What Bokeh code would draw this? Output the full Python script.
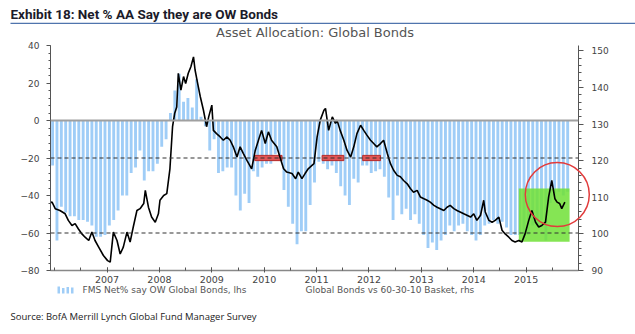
from bokeh.plotting import figure
from bokeh.models import (Range1d, LinearAxis, SingleIntervalTicker, FixedTicker,
                          CustomJSTickFormatter, Span)
from bokeh.core.properties import value
from bokeh.embed import file_html
from bokeh.resources import INLINE

# ---- data ----
bar_start = 2006.46          # first monthly survey reading (fractional year)
bar_values = [
    -24, -64, -46, -49, -51, -51, -53, -53, -54, -56,
    -62, -62, -61, -56, -53, -48, -40, -40, -28, -25,
    -16, -32, -27, -27, -23, -14, -10, 4, 16, 25,
    10, 12, 7, 22, 2, -3, -16, -10, -28, -27,
    -25, -25, -40, -48, -39, -44, -27, -30, -25, -23,
    -23, -18, -21, -37, -46, -55, -66, -59, -59, -45,
    -33, -22, -23, -26, -24, -28, -35, -40, -45, -31,
    -33, -24, -24, -28, -27, -26, -30, -41, -53, -40,
    -50, -47, -53, -50, -55, -61, -68, -65, -69, -64,
    -61, -56, -59, -56, -55, -59, -61, -64, -61, -56,
    -55, -53, -55, -54, -57, -61, -61, -61, -63, -61,
    -56, -56, -53, -64, -44, -40, -38, -40, -38,
]
bar_x = [bar_start + i / 12 for i in range(len(bar_values))]

line_t = [
    2006.38, 2006.45, 2006.51, 2006.60, 2006.70, 2006.76, 2006.83, 2006.89, 2006.95, 2007.02,
    2007.08, 2007.15, 2007.21, 2007.27, 2007.34, 2007.43, 2007.51, 2007.56, 2007.62, 2007.69,
    2007.75, 2007.81, 2007.88, 2007.94, 2008.00, 2008.07, 2008.13, 2008.20, 2008.23, 2008.29,
    2008.35, 2008.42, 2008.48, 2008.51, 2008.58, 2008.64, 2008.70, 2008.75, 2008.79, 2008.83,
    2008.86, 2008.91, 2008.96, 2009.00, 2009.05, 2009.10, 2009.15, 2009.18, 2009.23, 2009.28,
    2009.34, 2009.40, 2009.44, 2009.50, 2009.53, 2009.59, 2009.66, 2009.72, 2009.79, 2009.85,
    2009.91, 2009.98, 2010.04, 2010.10, 2010.17, 2010.26, 2010.33, 2010.39, 2010.45, 2010.52,
    2010.58, 2010.64, 2010.74, 2010.80, 2010.87, 2010.93, 2011.03, 2011.10, 2011.15, 2011.22,
    2011.28, 2011.34, 2011.38, 2011.45, 2011.51, 2011.57, 2011.64, 2011.67, 2011.73, 2011.80,
    2011.86, 2011.89, 2011.95, 2012.02, 2012.08, 2012.15, 2012.21, 2012.27, 2012.34, 2012.40,
    2012.46, 2012.53, 2012.59, 2012.65, 2012.72, 2012.78, 2012.85, 2012.91, 2012.97, 2013.04,
    2013.10, 2013.16, 2013.23, 2013.29, 2013.35, 2013.42, 2013.48, 2013.55, 2013.61, 2013.67,
    2013.74, 2013.80, 2013.86, 2013.93, 2013.99, 2014.05, 2014.12, 2014.18, 2014.24, 2014.31,
    2014.37, 2014.44, 2014.50, 2014.56, 2014.63, 2014.69, 2014.72, 2014.79, 2014.85, 2014.91,
    2014.98, 2015.04, 2015.10, 2015.17, 2015.23, 2015.29, 2015.36, 2015.42, 2015.48, 2015.55,
    2015.61, 2015.68, 2015.74, 2015.80, 2015.87, 2015.93, 2015.99, 2016.05, 2016.09, 2016.14,
    2016.18, 2016.24,
]
line_v = [
    108.3, 108.7, 106.9, 106.4, 105.5, 103.7, 102.3, 102.8, 101.4, 100.0,
    99.1, 98.2, 100.5, 98.2, 96.4, 94.1, 92.7, 92.3, 100.5, 98.2,
    94.5, 96.4, 100.5, 97.8, 101.9, 106.4, 106.9, 108.3, 111.9, 107.3,
    104.6, 103.2, 105.5, 109.2, 110.5, 111.0, 117.8, 129.3, 132.9, 134.7,
    143.9, 139.3, 143.0, 141.1, 143.9, 145.7, 148.4, 144.8, 141.1, 137.5,
    133.8, 129.3, 132.0, 135.2, 128.3, 127.4, 126.5, 125.6, 126.5, 125.6,
    123.8, 121.0, 123.8, 122.0, 120.1, 117.8, 122.9, 125.6, 128.3, 124.7,
    127.9, 125.6, 123.8, 121.0, 117.8, 116.9, 116.5, 115.1, 116.9, 115.1,
    116.5, 117.8, 118.3, 119.2, 126.5, 131.1, 133.8, 134.3, 128.3, 132.0,
    130.2, 131.1, 128.3, 125.6, 122.9, 121.0, 123.8, 127.4, 129.7, 128.3,
    127.0, 125.6, 124.7, 123.8, 124.7, 125.6, 122.0, 119.2, 117.4, 116.0,
    115.6, 114.6, 113.7, 112.4, 111.4, 111.9, 110.1, 109.6, 109.2, 108.7,
    107.8, 107.3, 106.9, 106.4, 107.3, 107.8, 106.9, 106.4, 106.0, 105.5,
    105.1, 104.6, 105.5, 103.7, 105.1, 109.2, 106.0, 103.7, 103.2, 103.7,
    104.6, 101.0, 100.0, 99.1, 98.2, 97.8, 98.2, 97.8, 100.0, 103.7,
    106.4, 103.2, 101.9, 102.3, 103.2, 110.1, 114.6, 109.6, 108.7, 108.3,
    106.9, 108.7,
]

year_labels_at = [2007.5, 2008.5, 2009.5, 2010.5, 2011.5, 2012.5, 2013.5, 2014.5, 2015.5]
half_year_ticks = [2006.5 + 0.5 * k for k in range(21)]

# highlight annotations (left-axis units / years)
red_left = [2010.32, 2011.605, 2012.38]
red_right = [2010.84, 2012.02, 2012.72]
green_box = dict(left=2015.36, right=2016.33, bottom=-64.7, top=-36.2)
circle_center = (2016.095, -39.5)

TITLE = "Exhibit 18: Net % AA Say they are OW Bonds"
SUBTITLE = "Asset Allocation: Global Bonds"
SOURCE = "Source: BofA Merrill Lynch Global Fund Manager Survey"
LEG1 = "FMS Net% say OW Global Bonds, lhs"
LEG2 = "Global Bonds vs 60-30-10 Basket, rhs"

BAR_COLOR = "#9fcdf7"

# ---- figure ----
p = figure(width=635, height=334, output_backend="svg", toolbar_location=None,
           x_range=Range1d(2006.42, 2016.5), y_range=Range1d(-80, 40),
           min_border_left=50, min_border_right=57, min_border_top=45, min_border_bottom=64,
           background_fill_color="white", border_fill_color="white")
p.outline_line_color = None
p.grid.visible = False

AX = "#555555"
LBL = "#444444"

yl = p.yaxis[0]
yl.ticker = SingleIntervalTicker(interval=20, num_minor_ticks=5)
yl.axis_line_color = AX
yl.major_tick_line_color = AX
yl.minor_tick_line_color = AX
yl.major_tick_in = 0
yl.major_tick_out = 4
yl.minor_tick_in = 0
yl.minor_tick_out = 2
yl.major_label_standoff = 7
yl.major_label_text_font = "DejaVu Sans"
yl.major_label_text_font_size = "9px"
yl.major_label_text_color = LBL

p.extra_y_ranges = {"r": Range1d(90, 151.5)}
yr = LinearAxis(y_range_name="r", ticker=SingleIntervalTicker(interval=10, num_minor_ticks=5))
yr.axis_line_color = AX
yr.major_tick_line_color = AX
yr.minor_tick_line_color = AX
yr.major_tick_in = 0
yr.major_tick_out = 5
yr.minor_tick_in = 0
yr.minor_tick_out = 3
yr.major_label_standoff = 8
yr.major_label_text_font = "DejaVu Sans"
yr.major_label_text_font_size = "9px"
yr.major_label_text_color = LBL
p.add_layout(yr, "right")

xa = p.xaxis[0]
xa.ticker = FixedTicker(ticks=year_labels_at, minor_ticks=half_year_ticks)
xa.formatter = CustomJSTickFormatter(code="return Math.floor(tick).toString();")
xa.axis_line_color = "#888888"
xa.axis_line_width = 1.5
xa.major_tick_line_color = AX
xa.minor_tick_line_color = AX
xa.major_tick_in = 3
xa.major_tick_out = 2
xa.minor_tick_in = 3
xa.minor_tick_out = 0
xa.major_label_standoff = 3
xa.major_label_text_font = "DejaVu Sans"
xa.major_label_text_font_size = "9.5px"
xa.major_label_text_color = LBL

# bars
bars = p.vbar(x=bar_x, top=0, bottom=bar_values, width=0.055,
              fill_color=BAR_COLOR, line_color=None)

# green highlight box
p.quad(left=[green_box["left"]], right=[green_box["right"]],
       bottom=[green_box["bottom"]], top=[green_box["top"]],
       fill_color="#70e036", fill_alpha=0.85, line_color=None)

# reference lines
p.add_layout(Span(location=0, dimension="width", line_color="#a0a0a0", line_width=2))

# red markers on the -20 line
p.quad(left=red_left, right=red_right, bottom=-21.4, top=-18.6,
       fill_color="#e05555", line_color="#b52a2a", line_width=1)

p.add_layout(Span(location=-20, dimension="width", line_color="#333333",
                  line_width=1.2, line_dash="4 3"))
p.add_layout(Span(location=-60, dimension="width", line_color="#333333",
                  line_width=1.2, line_dash="4 3"))

# bonds vs basket line
line = p.line(line_t, line_v, y_range_name="r", line_color="black", line_width=1.6)

# red circle
p.scatter(x=[circle_center[0]], y=[circle_center[1]], size=64, marker="circle",
          fill_color=None, line_color="#e23b3b", line_width=1.5, level="overlay")

# ---- texts & legend drawn in the margins (overlay level is not clipped) ----
def xd(px):
    return 2006.42 + (px - 50) / 52.38

def yd(py):
    return 40 - (py - 45) / 1.875

p.text(x=[xd(10)], y=[yd(13.5)], text=[TITLE], text_align="left", text_baseline="middle",
       text_font=value("Roboto"), text_font_style="bold",
       text_font_size="13.5px", text_color="#1b1b2a", level="overlay")
p.quad(left=[xd(10)], right=[xd(640)], top=[yd(22.2)], bottom=[yd(23.6)],
       fill_color="#4f74ad", line_color=None, level="overlay")
p.text(x=[xd(314.5)], y=[yd(32)], text=[SUBTITLE], text_align="center",
       text_baseline="middle", text_font=value("DejaVu Sans"),
       text_font_size="13px", text_color="#555555", level="overlay")
p.text(x=[xd(10)], y=[yd(316)], text=[SOURCE], text_align="left",
       text_baseline="middle", text_font=value("Open Sans"),
       text_font_size="9.5px", text_color="#222222", level="overlay")

# legend: small bar icon + label, line icon + label
icon_l = [xd(57), xd(61.5), xd(66), xd(70.5)]
icon_r = [xd(59.5), xd(64), xd(68.5), xd(73)]
icon_t = [yd(286), yd(287.5), yd(286.5), yd(287)]
p.quad(left=icon_l, right=icon_r, top=icon_t, bottom=yd(293),
       fill_color=BAR_COLOR, line_color=None, level="overlay")
p.text(x=[xd(82)], y=[yd(289.5)], text=[LEG1], text_align="left", text_baseline="middle",
       text_font=value("DejaVu Sans"), text_font_size="9px", text_color="#555555",
       level="overlay")
p.line(x=[xd(276), xd(298)], y=[yd(289)], line_color="black", line_width=1.5, level="overlay")
p.text(x=[xd(305)], y=[yd(289.5)], text=[LEG2], text_align="left", text_baseline="middle",
       text_font=value("DejaVu Sans"), text_font_size="9px", text_color="#555555",
       level="overlay")

open("out.html", "w").write(file_html(p, INLINE))
